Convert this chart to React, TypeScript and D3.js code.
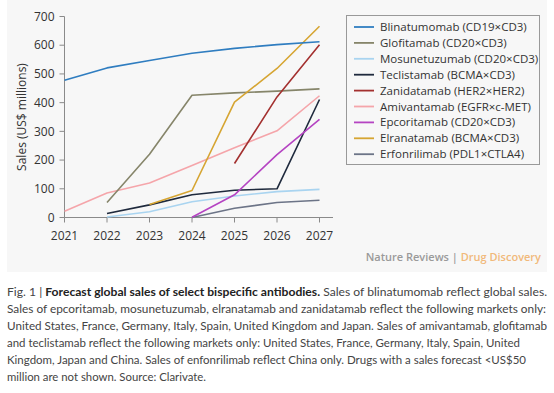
import React from "react";
import * as d3 from "d3";

const years = [2021, 2022, 2023, 2024, 2025, 2026, 2027];
const yTicks = [0, 100, 200, 300, 400, 500, 600, 700];

const seriesNames = [
  "Blinatumomab (CD19×CD3)",
  "Glofitamab (CD20×CD3)",
  "Mosunetuzumab (CD20×CD3)",
  "Teclistamab (BCMA×CD3)",
  "Zanidatamab (HER2×HER2)",
  "Amivantamab (EGFR×c-MET)",
  "Epcoritamab (CD20×CD3)",
  "Elranatamab (BCMA×CD3)",
  "Erfonrilimab (PDL1×CTLA4)",
];
const seriesColors = [
  "#2f7dc0",
  "#86856a",
  "#a9d4f0",
  "#1f2a3d",
  "#a3302f",
  "#f5a5aa",
  "#b544c2",
  "#d6a532",
  "#6c7487",
];
// null = not shown that year
const blinatumomab = [478, 521, 547, 572, 589, 602, 612];
const glofitamab = [null, 52, 220, 426, 434, 440, 448];
const mosunetuzumab = [null, 2, 20, 55, 75, 90, 98];
const teclistamab = [null, 14, 44, 79, 95, 100, 411];
const zanidatamab = [null, null, null, null, 188, 420, 602];
const amivantamab = [22, 85, 120, 181, 243, 302, 424];
const epcoritamab = [null, null, null, 1, 79, 219, 342];
const elranatamab = [null, null, 45, 94, 402, 519, 666];
const erfonrilimab = [null, null, null, 0, 32, 52, 60];

const seriesValues = [
  blinatumomab,
  glofitamab,
  mosunetuzumab,
  teclistamab,
  zanidatamab,
  amivantamab,
  epcoritamab,
  elranatamab,
  erfonrilimab,
];
// draw order (back to front)
const drawOrder = [5, 2, 8, 1, 3, 7, 6, 4, 0];

const captionLines = [
  [
    { t: "Fig. 1 | ", b: false },
    { t: "Forecast global sales of select bispecific antibodies.", b: true },
    { t: " Sales of blinatumomab reflect global sales.", b: false },
  ],
  [{ t: "Sales of epcoritamab, mosunetuzumab, elranatamab and zanidatamab reflect the following markets only:", b: false }],
  [{ t: "United States, France, Germany, Italy, Spain, United Kingdom and Japan. Sales of amivantamab, glofitamab", b: false }],
  [{ t: "and teclistamab reflect the following markets only: United States, France, Germany, Italy, Spain, United", b: false }],
  [{ t: "Kingdom, Japan and China. Sales of enfonrilimab reflect China only. Drugs with a sales forecast <US$50", b: false }],
  [{ t: "million are not shown. Source: Clarivate.", b: false }],
];
const captionWidths = [540, 539, 540, 513, 519, 199];

const font = "'Open Sans', 'Noto Sans', sans-serif";

export default function App() {
  const W = 554;
  const H = 393;
  const x = d3.scaleLinear().domain([2021, 2027]).range([64.5, 319.5]);
  const y = d3.scaleLinear().domain([0, 700]).range([217.5, 16.5]);
  const line = d3
    .line<number | null>()
    .defined((d) => d !== null)
    .x((_, i) => x(years[i]))
    .y((d) => y(d as number));

  return (
    <svg
      width={W}
      height={H}
      style={{ position: "absolute", left: 0, top: 0, background: "#fff" }}
      fontFamily={font}
    >
      <rect x={7} y={0} width={540} height={272} fill="#f7f7f7" />
      {/* axes */}
      <line x1={x(2021)} x2={333} y1={y(0)} y2={y(0)} stroke="#8a8a8a" strokeWidth={1} />
      <line x1={x(2021)} x2={x(2021)} y1={y(0)} y2={y(700)} stroke="#8a8a8a" strokeWidth={1} />
      {yTicks.map((t) => (
        <g key={t}>
          <line x1={x(2021) - 5} x2={x(2021)} y1={y(t)} y2={y(t)} stroke="#8a8a8a" />
          <text x={x(2021) - 10} y={y(t)} dy="0.35em" textAnchor="end" fontSize={12} fill="#333">
            {t}
          </text>
        </g>
      ))}
      {years.map((yr) => (
        <g key={yr}>
          <line x1={x(yr)} x2={x(yr)} y1={y(0)} y2={y(0) + 5} stroke="#8a8a8a" />
          <text x={x(yr)} y={y(0) + 18} dy="0.35em" textAnchor="middle" fontSize={12} fill="#333">
            {yr}
          </text>
        </g>
      ))}
      <text
        transform={`translate(22, ${y(350)}) rotate(-90)`}
        textAnchor="middle"
        dy="0.35em"
        fontSize={12}
        fill="#333"
      >
        Sales (US$ millions)
      </text>
      {drawOrder.map((i) => (
        <path
          key={i}
          d={line(seriesValues[i]) || ""}
          fill="none"
          stroke={seriesColors[i]}
          strokeWidth={1.6}
          strokeLinejoin="round"
        />
      ))}
      {/* legend */}
      <rect x={346.5} y={15.5} width={193} height={149} fill="#f7f7f7" stroke="#999" strokeWidth={1} />
      {seriesNames.map((n, i) => {
        const ly = 27 + i * 15.9;
        return (
          <g key={n}>
            <line x1={354} x2={374} y1={ly} y2={ly} stroke={seriesColors[i]} strokeWidth={1.8} />
            <text x={380} y={ly} dy="0.35em" fontSize={11.5} fill="#333">
              {n}
            </text>
          </g>
        );
      })}
      <text x={541} y={257} dy="0.35em" textAnchor="end" fontSize={11} fontWeight={600}>
        <tspan fill="#9a9a9a">Nature Reviews | </tspan>
        <tspan fill="#f1b97a">Drug Discovery</tspan>
      </text>
      {captionLines.map((ln, i) => (
        <text
          key={i}
          x={7}
          y={292 + i * 17}
          dy="0.35em"
          fontSize={11.6}
          fill="#444"
          fontFamily="Lato, 'Open Sans', sans-serif"
          textLength={captionWidths[i]}
          lengthAdjust="spacingAndGlyphs"
        >
          {ln.map((s, j) => (
            <tspan key={j} fontWeight={s.b ? 700 : 400} fill={s.b ? "#222" : "#444"}>
              {s.t}
            </tspan>
          ))}
        </text>
      ))}
    </svg>
  );
}
